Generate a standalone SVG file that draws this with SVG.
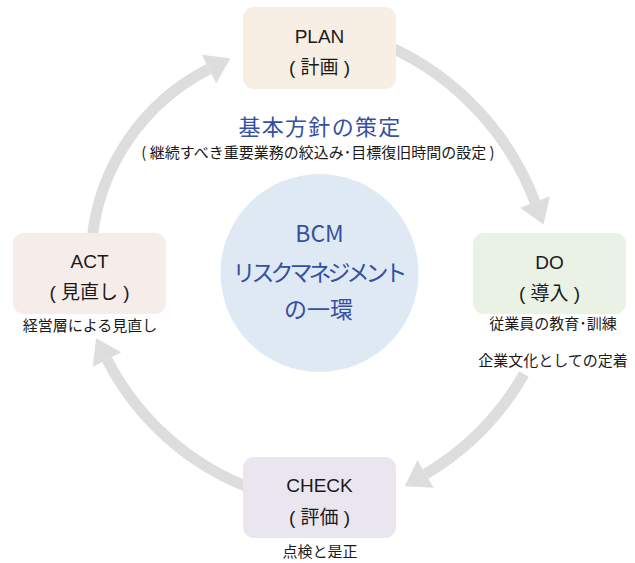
<svg xmlns="http://www.w3.org/2000/svg" width="635" height="563" viewBox="0 0 635 563">
<style>
.lbl{font-family:"Liberation Sans","Noto Sans CJK JP",sans-serif;font-size:19px;fill:#1a1a1a;text-anchor:middle}
.sub{font-family:"Noto Sans CJK JP",sans-serif;font-size:15px;fill:#1a1a1a;text-anchor:middle}
.blue{font-family:"Noto Sans CJK JP",sans-serif;fill:#3450A0;text-anchor:middle}
.arc{fill:none;stroke:#DDDDDD;stroke-width:11;marker-end:url(#head)}
</style>
<defs>
<marker id="head" markerUnits="userSpaceOnUse" markerWidth="26" markerHeight="34" refX="0" refY="16" orient="auto" overflow="visible">
<path d="M0,0 L24,16 L0,32 z" fill="#DDDDDD"/>
</marker>
</defs>
<g id="connectors">
<path class="arc" d="M 92 240 A 215 215 0 0 1 209 69"/>
<path class="arc" d="M 390 47 A 280 280 0 0 1 535 202"/>
<path class="arc" d="M 524 374 A 275 275 0 0 1 425.5 474"/>
<path class="arc" d="M 252 488.7 A 269 269 0 0 1 107 359.5"/>
</g>
<g id="plan">
<rect x="243" y="7" width="153" height="82" rx="11" fill="#F7EFE3"/>
<text class="lbl" x="319.5" y="43">PLAN</text>
<text class="lbl" x="319.5" y="74">( 計画 )</text>
</g>
<g id="policy">
<text class="blue" x="320" y="135" font-size="22" letter-spacing="1.3">基本方針の策定</text>
<text class="sub" x="318" y="158" font-size="15.4">( 継続すべき重要業務の絞込み･目標復旧時間の設定 )</text>
</g>
<g id="do">
<rect x="473" y="233" width="153" height="81" rx="11" fill="#E9F2E5"/>
<text class="lbl" x="549.5" y="269">DO</text>
<text class="lbl" x="549.5" y="300">( 導入 )</text>
<text class="sub" x="553" y="329" font-size="15.8">従業員の教育･訓練</text>
<text class="sub" x="553" y="366">企業文化としての定着</text>
</g>
<g id="act">
<rect x="13" y="233" width="153" height="81" rx="11" fill="#F6ECEA"/>
<text class="lbl" x="89.5" y="268">ACT</text>
<text class="lbl" x="89.5" y="299">( 見直し )</text>
<text class="sub" x="90" y="331">経営層による見直し</text>
</g>
<g id="check">
<rect x="243" y="457" width="153" height="81" rx="11" fill="#E9E6EF"/>
<text class="lbl" x="319.5" y="492">CHECK</text>
<text class="lbl" x="319.5" y="524">( 評価 )</text>
<text class="sub" x="320" y="557">点検と是正</text>
</g>
<g id="bcm">
<circle cx="319.5" cy="273" r="99" fill="#DFE9F4"/>
<text class="blue" x="319.5" y="242" font-size="23">BCM</text>
<text class="blue" x="318" y="281" font-size="23" letter-spacing="-4">リスクマネジメント</text>
<text class="blue" x="318.5" y="318" font-size="23">の一環</text>
</g>
</svg>
